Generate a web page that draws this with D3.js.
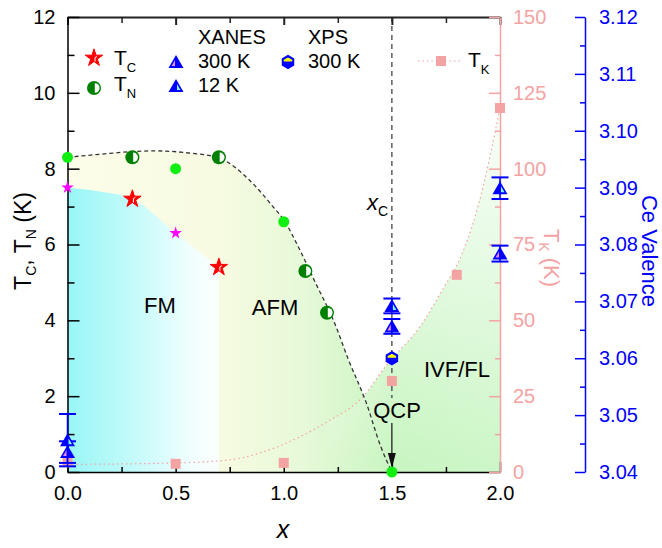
<!DOCTYPE html>
<html>
<head>
<meta charset="utf-8">
<script src="https://cdn.jsdelivr.net/npm/d3@7"></script>
<style>
  body { margin: 0; background: #fff; }
  svg { display: block; font-family: "Liberation Sans", Arial, sans-serif; }
</style>
</head>
<body>
<svg id="chart" width="662" height="548"></svg>
<script>
// T_C (red stars) and other-source T_C (magenta stars)
var tcX = [0.3, 0.7]
var tcVal = [7.2, 5.4]
var tcOtherX = [0, 0.5]
var tcOtherVal = [7.5, 6.3]
// T_N (half circles) and other-source T_N (green dots)
var tnX = [0.3, 0.7, 1.1, 1.2]
var tnVal = [8.3, 8.3, 5.3, 4.2]
var tnOtherX = [0, 0.5, 1.0, 1.5]
var tnOtherVal = [8.3, 8.0, 6.6, 0]
// T_K (pink squares, right axis)
var tkX = [0, 0.5, 1.0, 1.5, 1.8, 2.0]
var tkVal = [3.2, 2.7, 3.0, 30, 65, 120]
// Ce valence, XANES 300 K / 12 K, XPS 300 K
var xanesX = [0, 1.5, 2.0]
var val300 = [3.0435, 3.0656, 3.0784]
var err300 = [0.0019, 0.0013, 0.0014]
var val12 = [3.0456, 3.0692, 3.0899]
var err12 = [0.0046, 0.0013, 0.0019]
var xpsX = [1.5]
var xps300 = [3.060]
// guide curves
var tnGuideX = [0, 0.15, 0.3, 0.4, 0.55, 0.7, 0.85, 0.95, 1.0, 1.075, 1.15, 1.23, 1.3, 1.38, 1.45, 1.5]
var tnGuideVal = [8.3, 8.38, 8.45, 8.47, 8.42, 8.28, 7.65, 7.0, 6.65, 5.85, 4.95, 4.0, 2.95, 1.85, 0.65, 0]
var tcGuideX = [0, 0.15, 0.3, 0.5, 0.7]
var tcGuideVal = [7.5, 7.4, 7.2, 6.3, 5.4]
var tkGuideX = [0, 0.5, 0.75, 0.9, 1.075, 1.2, 1.366, 1.476, 1.63, 1.75, 1.8, 1.9, 2.0]
var tkGuideVal = [2.5, 3, 4, 6.5, 11.6, 16.5, 24.8, 35.3, 47.9, 62, 68, 88, 120]
// ticks
var xTicks = [0, 0.5, 1.0, 1.5, 2.0]
var xMinor = [0.25, 0.75, 1.25, 1.75]
var yTicks = [0, 2, 4, 6, 8, 10, 12]
var yMinor = [1, 3, 5, 7, 9, 11]
var tkTicks = [0, 25, 50, 75, 100, 125, 150]
var tkMinor = [12.5, 37.5, 62.5, 87.5, 112.5, 137.5]
var valTicks = [3.04, 3.05, 3.06, 3.07, 3.08, 3.09, 3.10, 3.11, 3.12]
var valMinor = [3.045, 3.055, 3.065, 3.075, 3.085, 3.095, 3.105, 3.115]

var pink = '#f4a3a3'
var svg = d3.select('#chart')
var defs = svg.append('defs')

var x = d3.scaleLinear().domain([0, 2]).range([67.5, 500])
var y = d3.scaleLinear().domain([0, 12]).range([472, 17])
var yK = d3.scaleLinear().domain([0, 150]).range([472, 17])
var yV = d3.scaleLinear().domain([3.04, 3.12]).range([472, 17])

function grad(id, x1, y1, x2, y2, stops) {
  var g = defs.append('linearGradient').attr('id', id)
    .attr('gradientUnits', 'userSpaceOnUse')
    .attr('x1', x1).attr('y1', y1).attr('x2', x2).attr('y2', y2)
  stops.forEach(function (s) {
    g.append('stop').attr('offset', s[0]).attr('stop-color', s[1]).attr('stop-opacity', s[2] == null ? 1 : s[2])
  })
}
grad('gAfm', x(0), 0, x(2), 0, [[0, '#fdfde9'], [0.35, '#f7fbe1'], [0.55, '#e6f9d8'], [0.75, '#c8f5c1'], [1, '#cdf6c8']])
grad('gFm', x(0), 0, x(0.7), 0, [[0, '#98f6f6'], [0.45, '#c6fafa'], [0.8, '#effefe'], [1, '#fbfffd']])
grad('gFade', 0, y(0), 0, yK(120), [[0, '#fff', 0], [0.3, '#fff', 0.25], [1, '#fff', 0.9]])

function pts(xs, vs, sc) {
  return xs.map(function (d, i) { return [x(d), sc(vs[i])] })
}
var line = d3.line().curve(d3.curveMonotoneX)
var area = d3.area().curve(d3.curveMonotoneX).y0(y(0))
  .x(function (d) { return d[0] }).y1(function (d) { return d[1] })

// background regions
var tnPts = pts(tnGuideX, tnGuideVal, y)
var tkPts = pts(tkGuideX, tkGuideVal, yK)
svg.append('path').attr('d', area(tnPts)).attr('fill', 'url(#gAfm)')
svg.append('path').attr('d', area(tkPts)).attr('fill', 'url(#gAfm)')
svg.append('path').attr('d', area(tkPts.filter(function (p) { return p[0] >= x(1.2) }))).attr('fill', 'url(#gFade)')
svg.append('path').attr('d', area(pts(tcGuideX, tcGuideVal, y))).attr('fill', 'url(#gFm)')

// guide lines
svg.append('path').attr('d', line(tkPts)).attr('fill', 'none')
  .attr('stroke', pink).attr('stroke-width', 1.2).attr('stroke-dasharray', '1.5,3')
svg.append('path').attr('d', line(tnPts)).attr('fill', 'none')
  .attr('stroke', '#333').attr('stroke-width', 1.3).attr('stroke-dasharray', '4,3')
// x_C line and QCP arrow
svg.append('line').attr('x1', x(1.5)).attr('x2', x(1.5)).attr('y1', y(12)).attr('y2', 398)
  .attr('stroke', '#444').attr('stroke-width', 1.3).attr('stroke-dasharray', '5,4')
svg.append('line').attr('x1', x(1.5)).attr('x2', x(1.5)).attr('y1', 423).attr('y2', 456)
  .attr('stroke', '#111').attr('stroke-width', 1.2)
svg.append('path').attr('d', 'M' + (x(1.5) - 4) + ',453L' + (x(1.5) + 4) + ',453L' + x(1.5) + ',468Z').attr('fill', '#111')

// axes
function styleAxis(g, color, width, fs) {
  g.attr('font-family', null).attr('font-size', null)
  g.select('.domain').attr('stroke', color).attr('stroke-width', width)
  g.selectAll('.tick line').attr('stroke', color).attr('stroke-width', width)
  g.selectAll('.tick text').attr('fill', color).attr('font-size', fs)
}
function minor(axis, tr, color) {
  var g = svg.append('g').attr('transform', tr).call(axis.tickFormat(''))
  g.select('.domain').remove()
  g.selectAll('.tick line').attr('stroke', color).attr('stroke-width', 1.5)
}
var gb = svg.append('g').attr('transform', 'translate(0,472)')
  .call(d3.axisBottom(x).tickValues(xTicks).tickSize(-10).tickSizeOuter(0).tickPadding(14).tickFormat(d3.format('.1f')))
styleAxis(gb, '#000', 1.5, 20)
minor(d3.axisBottom(x).tickValues(xMinor).tickSize(-5), 'translate(0,472)', '#000')
var gt = svg.append('g').attr('transform', 'translate(0,17)')
  .call(d3.axisTop(x).tickValues(xTicks).tickSize(-8).tickSizeOuter(0).tickFormat(''))
styleAxis(gt, '#222', 2, 20)
minor(d3.axisTop(x).tickValues(xMinor).tickSize(-6), 'translate(0,17)', '#222')
var gl = svg.append('g').attr('transform', 'translate(67.5,0)')
  .call(d3.axisLeft(y).tickValues(yTicks).tickSize(-12).tickSizeOuter(0).tickPadding(12))
styleAxis(gl, '#000', 1.5, 20)
minor(d3.axisLeft(y).tickValues(yMinor).tickSize(-7), 'translate(67.5,0)', '#000')
var gk = svg.append('g').attr('transform', 'translate(500,0)')
  .call(d3.axisRight(yK).tickValues(tkTicks).tickSize(-11).tickSizeOuter(0).tickPadding(13))
styleAxis(gk, pink, 1.5, 20)
minor(d3.axisRight(yK).tickValues(tkMinor).tickSize(-5), 'translate(500,0)', pink)
var gv = svg.append('g').attr('transform', 'translate(585,0)')
  .call(d3.axisRight(yV).tickValues(valTicks).tickSize(-10).tickSizeOuter(0).tickPadding(14).tickFormat(d3.format('.2f')))
styleAxis(gv, '#0000ff', 1.5, 20)
minor(d3.axisRight(yV).tickValues(valMinor).tickSize(-5), 'translate(585,0)', '#0000ff')

// marker helpers
var star = d3.symbol().type(d3.symbolStar)
function redStar(g, cx, cy) {
  g.append('path').attr('d', star.size(95)()).attr('transform', 'translate(' + cx + ',' + cy + ')')
    .attr('fill', '#ff0000').attr('stroke', '#ff0000').attr('stroke-width', 1)
  g.append('path').attr('d', 'M' + (cx + 1) + ',' + (cy + 3.5) + 'L' + (cx + 1) + ',' + (cy - 0.5) + 'L' + (cx + 3) + ',' + (cy - 1.5))
    .attr('fill', 'none').attr('stroke', '#fff').attr('stroke-width', 1)
}
function halfCircle(g, cx, cy) {
  g.append('circle').attr('cx', cx).attr('cy', cy).attr('r', 7).attr('fill', '#008000')
  g.append('path').attr('d', 'M' + (cx + 0.8) + ',' + (cy - 4.8) + 'A4.8,4.8 0 0 1 ' + (cx + 0.8) + ',' + (cy + 4.8) + 'Z').attr('fill', '#fff')
}
function tri(g, cx, cy, inner) {
  g.append('path').attr('d', 'M' + cx + ',' + (cy - 7) + 'L' + (cx + 7.5) + ',' + (cy + 6) + 'L' + (cx - 7.5) + ',' + (cy + 6) + 'Z')
    .attr('fill', '#0000ff')
  if (inner === 'pink') {
    g.append('path').attr('d', 'M' + (cx - 1) + ',' + (cy - 2) + 'L' + (cx - 1) + ',' + (cy + 4) + 'L' + (cx - 4.5) + ',' + (cy + 4) + 'Z').attr('fill', '#e88ae8')
  } else {
    g.append('path').attr('d', 'M' + (cx + 1) + ',' + (cy - 2) + 'L' + (cx + 4.5) + ',' + (cy + 4) + 'L' + (cx + 1) + ',' + (cy + 4) + 'Z').attr('fill', '#7ff8f8')
  }
}
function hexagon(g, cx, cy) {
  var p = d3.range(6).map(function (i) {
    var a = Math.PI / 3 * i - Math.PI / 2
    return [cx + 7.2 * Math.cos(a), cy + 7.2 * Math.sin(a)]
  })
  g.append('path').attr('d', 'M' + p.join('L') + 'Z').attr('fill', '#0000ff')
  g.append('path').attr('d', 'M' + (cx - 4.2) + ',' + (cy - 0.5) + 'L' + (cx - 4.2) + ',' + (cy - 2.3) + 'L' + cx + ',' + (cy - 4.6) + 'L' + (cx + 4.2) + ',' + (cy - 2.3) + 'L' + (cx + 4.2) + ',' + (cy - 0.5) + 'Z')
    .attr('fill', '#ffff00')
}
function errBar(g, cx, v, e) {
  g.append('line').attr('x1', cx).attr('x2', cx).attr('y1', yV(v - e)).attr('y2', yV(v + e)).attr('stroke', '#0000ff').attr('stroke-width', 1.5)
  ;[v - e, v + e].forEach(function (t) {
    g.append('line').attr('x1', cx - 8.5).attr('x2', cx + 8.5).attr('y1', yV(t)).attr('y2', yV(t)).attr('stroke', '#0000ff').attr('stroke-width', 2)
  })
}

var marks = svg.append('g')
// T_K squares
tkX.forEach(function (d, i) {
  marks.append('rect').attr('x', x(d) - 5).attr('y', yK(tkVal[i]) - 5).attr('width', 10).attr('height', 10).attr('fill', pink)
})
// valence
xanesX.forEach(function (d, i) {
  errBar(marks, x(d), val12[i], err12[i])
  errBar(marks, x(d), val300[i], err300[i])
})
xanesX.forEach(function (d, i) {
  tri(marks, x(d), yV(val12[i]), 'cyan')
  tri(marks, x(d), yV(val300[i]), 'pink')
})
xpsX.forEach(function (d, i) { hexagon(marks, x(d), yV(xps300[i])) })
// T_N
tnOtherX.forEach(function (d, i) {
  marks.append('circle').attr('cx', x(d)).attr('cy', y(tnOtherVal[i])).attr('r', 5.5).attr('fill', '#11ee11')
})
tnX.forEach(function (d, i) { halfCircle(marks, x(d), y(tnVal[i])) })
// T_C
tcOtherX.forEach(function (d, i) {
  marks.append('path').attr('d', star.size(48)()).attr('transform', 'translate(' + x(d) + ',' + y(tcOtherVal[i]) + ')').attr('fill', '#ff00ff')
})
tcX.forEach(function (d, i) { redStar(marks, x(d), y(tcVal[i])) })

// region labels
var txt = svg.append('g')
txt.append('text').attr('x', 160).attr('y', 313).attr('text-anchor', 'middle').attr('font-size', 22).text('FM')
txt.append('text').attr('x', 275).attr('y', 315).attr('text-anchor', 'middle').attr('font-size', 22).text('AFM')
txt.append('text').attr('x', 457).attr('y', 377).attr('text-anchor', 'middle').attr('font-size', 22).text('IVF/FL')
txt.append('text').attr('x', 397).attr('y', 418).attr('text-anchor', 'middle').attr('font-size', 22).text('QCP')
var xc = txt.append('text').attr('x', 367).attr('y', 210).attr('font-size', 22)
xc.append('tspan').attr('font-style', 'italic').text('x')
xc.append('tspan').attr('font-size', 14).attr('dy', 6).text('C')

// legend
var lg = svg.append('g')
redStar(lg, 94, 58)
halfCircle(lg, 94, 88)
var l1 = lg.append('text').attr('x', 114).attr('y', 65).attr('font-size', 21)
l1.append('tspan').text('T')
l1.append('tspan').attr('font-size', 13).attr('dy', 7).text('C')
var l2 = lg.append('text').attr('x', 114).attr('y', 91).attr('font-size', 21)
l2.append('tspan').text('T')
l2.append('tspan').attr('font-size', 13).attr('dy', 7).text('N')
lg.append('text').attr('x', 198).attr('y', 44).attr('font-size', 20).text('XANES')
lg.append('text').attr('x', 198).attr('y', 68).attr('font-size', 20).text('300 K')
lg.append('text').attr('x', 198).attr('y', 92).attr('font-size', 20).text('12 K')
tri(lg, 176, 62, 'pink')
tri(lg, 176, 86, 'cyan')
lg.append('text').attr('x', 308).attr('y', 44).attr('font-size', 20).text('XPS')
lg.append('text').attr('x', 308).attr('y', 68).attr('font-size', 20).text('300 K')
hexagon(lg, 288, 62)
lg.append('line').attr('x1', 418).attr('x2', 463).attr('y1', 61).attr('y2', 61)
  .attr('stroke', pink).attr('stroke-width', 1.2).attr('stroke-dasharray', '1.5,3')
lg.append('rect').attr('x', 436).attr('y', 56).attr('width', 10).attr('height', 10).attr('fill', pink)
var l3 = lg.append('text').attr('x', 468).attr('y', 67).attr('font-size', 21)
l3.append('tspan').text('T')
l3.append('tspan').attr('font-size', 13).attr('dy', 7).text('K')

// axis titles
var ty = svg.append('text').attr('transform', 'translate(31,241) rotate(-90)').attr('text-anchor', 'middle').attr('font-size', 23)
ty.append('tspan').text('T')
ty.append('tspan').attr('font-size', 14).attr('dy', 5).text('C')
ty.append('tspan').attr('dy', -5).text(', T')
ty.append('tspan').attr('font-size', 14).attr('dy', 5).text('N')
ty.append('tspan').attr('dy', -5).text(' (K)')
var tk = svg.append('text').attr('transform', 'translate(544,258) rotate(90)').attr('text-anchor', 'middle').attr('font-size', 22).attr('fill', pink)
tk.append('tspan').text('T')
tk.append('tspan').attr('font-size', 14).attr('dy', 5).text('K')
tk.append('tspan').attr('dy', -5).text(' (K)')
svg.append('text').attr('transform', 'translate(642,251) rotate(90)').attr('text-anchor', 'middle').attr('font-size', 22).attr('fill', '#0000ff').text('Ce Valence')
svg.append('text').attr('x', 283).attr('y', 538).attr('text-anchor', 'middle').attr('font-size', 25).attr('font-style', 'italic').text('x')
</script>
</body>
</html>
